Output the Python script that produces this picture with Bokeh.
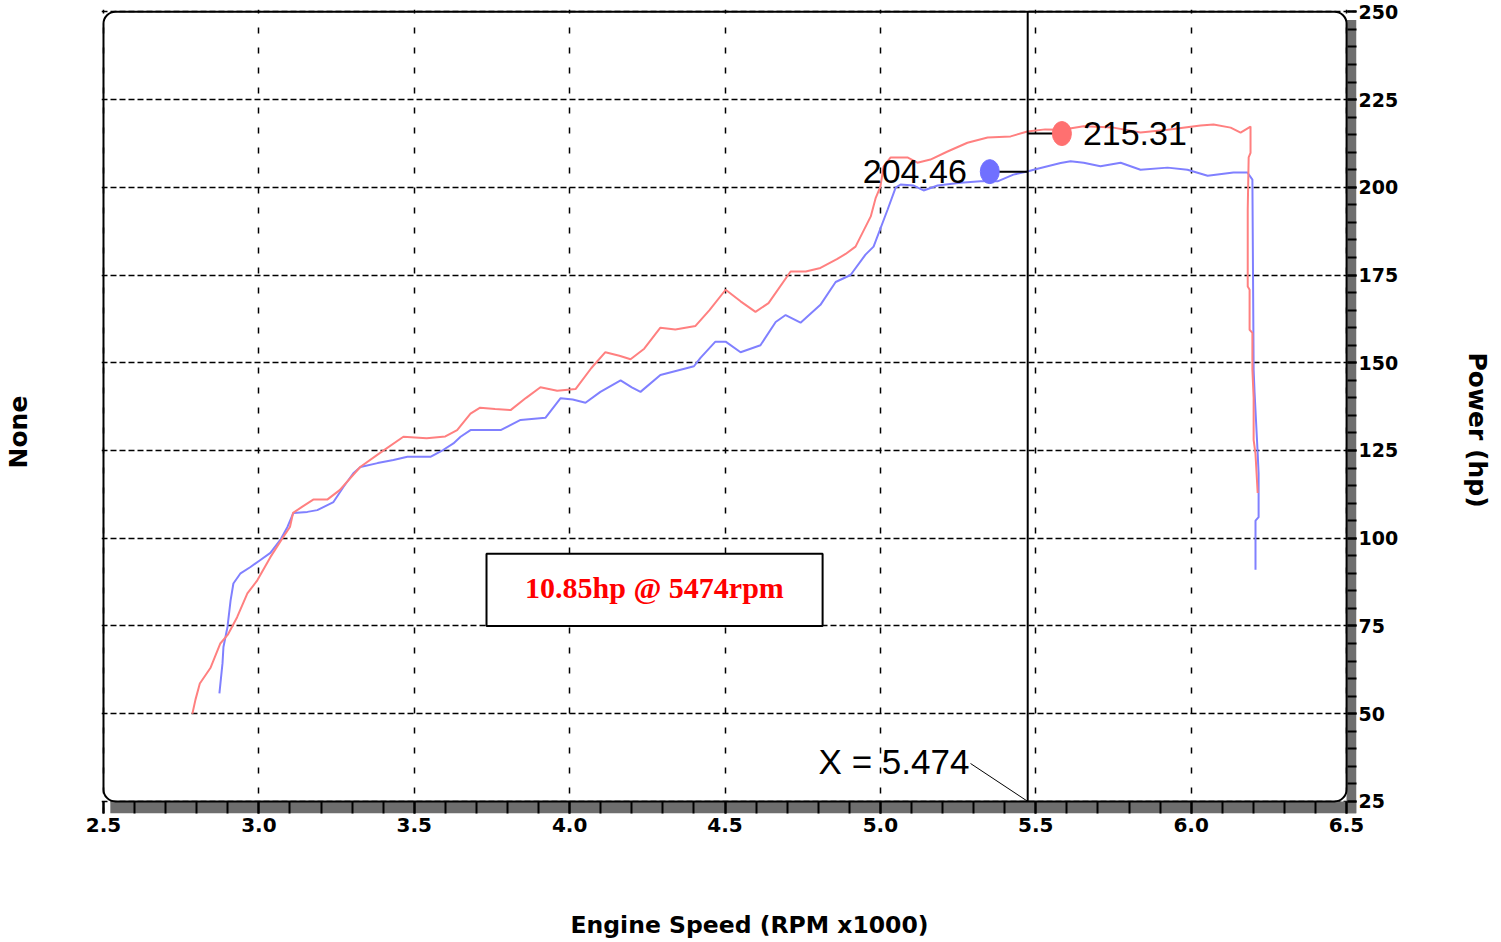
from bokeh.plotting import figure
from bokeh.models import (Range1d, FixedTicker, PrintfTickFormatter,
                          BoxAnnotation, Label, Title, LinearAxis)
from bokeh.embed import file_html
from bokeh.resources import INLINE

# ---------------- data ----------------
red_rpm = [2.786, 2.796, 2.810, 2.844, 2.876, 2.900, 2.930, 2.963, 2.995, 3.037,
           3.079, 3.100, 3.110, 3.140, 3.175, 3.220, 3.260, 3.326, 3.390, 3.465,
           3.540, 3.600, 3.638, 3.681, 3.712, 3.760, 3.810, 3.860, 3.906, 3.960,
           4.019, 4.070, 4.115, 4.160, 4.196, 4.240, 4.292, 4.340, 4.405, 4.450,
           4.502, 4.550, 4.598, 4.640, 4.711, 4.760, 4.807, 4.860, 4.888, 4.920,
           4.969, 4.985, 5.000, 5.010, 5.033, 5.087, 5.119, 5.161, 5.216, 5.280,
           5.345, 5.419, 5.473, 5.530, 5.584, 5.654, 5.750, 5.837, 5.924, 6.030,
           6.072, 6.127, 6.159, 6.191, 6.191, 6.185, 6.182, 6.182, 6.188, 6.188,
           6.197, 6.197, 6.201, 6.201, 6.207, 6.214]
red_hp = [50.0, 54.0, 58.6, 63.0, 70.0, 72.5, 77.5, 84.3, 88.0, 94.6,
          100.4, 103.2, 107.2, 109.0, 111.0, 111.0, 113.7, 120.3, 124.3, 128.9,
          128.5, 129.0, 130.8, 135.5, 137.2, 136.8, 136.5, 140.0, 143.0, 142.0,
          142.5, 148.5, 153.0, 152.0, 151.0, 154.0, 160.0, 159.5, 160.5, 165.0,
          170.8, 167.5, 164.5, 167.0, 176.0, 176.0, 177.0, 179.5, 181.0, 183.1,
          191.7, 197.0, 200.2, 205.9, 208.5, 208.5, 207.0, 207.9, 210.2, 212.7,
          214.2, 214.5, 215.9, 216.5, 216.4, 217.4, 217.0, 215.6, 216.4, 217.6,
          217.9, 217.0, 215.6, 217.3, 209.8, 208.5, 193.6, 171.7, 170.8, 159.4,
          158.5, 148.0, 140.0, 128.0, 124.0, 112.9]

blue_rpm = [2.873, 2.883, 2.886, 2.899, 2.909, 2.918, 2.941, 2.973, 3.005, 3.037,
            3.069, 3.092, 3.111, 3.156, 3.188, 3.240, 3.272, 3.304, 3.327, 3.382,
            3.433, 3.478, 3.552, 3.594, 3.626, 3.649, 3.681, 3.778, 3.842, 3.922,
            3.971, 4.010, 4.051, 4.099, 4.164, 4.200, 4.228, 4.292, 4.357, 4.400,
            4.421, 4.469, 4.502, 4.550, 4.614, 4.663, 4.695, 4.743, 4.807, 4.856,
            4.904, 4.952, 4.978, 5.023, 5.049, 5.065, 5.107, 5.139, 5.184, 5.258,
            5.322, 5.377, 5.428, 5.473, 5.493, 5.538, 5.580, 5.612, 5.654, 5.708,
            5.773, 5.837, 5.924, 5.988, 6.053, 6.136, 6.181, 6.197, 6.201, 6.204,
            6.214, 6.217, 6.217, 6.207, 6.207]
blue_hp = [55.8, 64.4, 69.0, 74.7, 82.3, 87.1, 90.0, 91.8, 93.8, 95.8,
           99.5, 103.2, 107.2, 107.5, 108.0, 110.3, 114.6, 118.5, 120.3, 121.4,
           122.3, 123.2, 123.2, 125.2, 127.0, 128.9, 130.8, 130.8, 133.7, 134.3,
           139.9, 139.5, 138.6, 141.7, 145.0, 143.0, 141.7, 146.5, 148.0, 149.0,
           151.4, 156.0, 156.0, 153.0, 155.0, 161.6, 163.6, 161.4, 166.5, 173.0,
           175.0, 180.8, 183.1, 193.6, 199.9, 200.8, 200.5, 199.1, 200.5, 201.3,
           201.7, 201.7, 203.6, 204.5, 205.0, 206.0, 206.9, 207.4, 207.0, 206.0,
           207.0, 205.0, 205.6, 205.0, 203.3, 204.2, 204.2, 202.2, 148.0, 141.5,
           124.2, 118.5, 106.0, 105.0, 91.0]

x_ticks = [2.5, 3.0, 3.5, 4.0, 4.5, 5.0, 5.5, 6.0, 6.5]
x_minor_ticks = [2.5, 2.6, 2.7, 2.8, 2.9, 3.0, 3.1, 3.2, 3.3, 3.4, 3.5, 3.6, 3.7,
                 3.8, 3.9, 4.0, 4.1, 4.2, 4.3, 4.4, 4.5, 4.6, 4.7, 4.8, 4.9, 5.0,
                 5.1, 5.2, 5.3, 5.4, 5.5, 5.6, 5.7, 5.8, 5.9, 6.0, 6.1, 6.2, 6.3,
                 6.4, 6.5]
y_ticks = [25, 50, 75, 100, 125, 150, 175, 200, 225, 250]
y_minor_ticks = list(range(25, 251, 5))

cursor_rpm = 5.474
red_at_cursor = 215.31
blue_at_cursor = 204.46
red_marker_rpm = 5.584
blue_marker_rpm = 5.352
delta_text = "10.85hp @ 5474rpm"

x_title = "Engine Speed (RPM x1000)"
y_right_title = "Power (hp)"
y_left_title = "None"

RED = "#ff8080"
BLUE = "#8080ff"
GRAY = "#6e6e6e"
TICK_FONT = "DejaVu Sans"

p = figure(width=1495, height=940,
           x_range=Range1d(2.4936, 6.532), y_range=Range1d(21.55, 250.66),
           output_backend="svg", toolbar_location=None,
           y_axis_location="right",
           min_border_left=101, min_border_top=9, min_border_right=139,
           min_border_bottom=127)
p.outline_line_color = None
p.background_fill_color = "white"
p.border_fill_color = "white"

# bottom axis
xa = p.xaxis[0]
xa.ticker = FixedTicker(ticks=x_ticks, minor_ticks=x_minor_ticks)
xa.formatter = PrintfTickFormatter(format="%.1f")
xa.axis_line_color = None
xa.major_tick_in = 12
xa.major_tick_out = 0
xa.minor_tick_in = 12
xa.minor_tick_out = 0
xa.major_tick_line_color = "black"
xa.minor_tick_line_color = "black"
xa.major_tick_line_width = 2
xa.minor_tick_line_width = 2
xa.major_label_standoff = 4
xa.major_label_text_font = TICK_FONT
xa.major_label_text_font_style = "bold"
xa.major_label_text_font_size = "20px"
xa.major_label_text_color = "black"
# blank axis label used only as spacing before the side title
xa.axis_label = " "
xa.axis_label_text_font_size = "1px"
xa.axis_label_standoff = 70

# right axis
ya = p.yaxis[0]
ya.ticker = FixedTicker(ticks=y_ticks, minor_ticks=y_minor_ticks)
ya.formatter = PrintfTickFormatter(format="%d")
ya.axis_line_color = None
ya.major_tick_in = 9
ya.major_tick_out = 0
ya.minor_tick_in = 9
ya.minor_tick_out = 0
ya.major_tick_line_color = "black"
ya.minor_tick_line_color = "black"
ya.major_tick_line_width = 2
ya.minor_tick_line_width = 2
ya.major_label_standoff = 2
ya.major_label_text_font = TICK_FONT
ya.major_label_text_font_style = "bold"
ya.major_label_text_font_size = "19px"
ya.major_label_text_color = "black"
ya.axis_label = " "
ya.axis_label_text_font_size = "1px"
ya.axis_label_standoff = 57

# empty left axis, used only as spacing before the left title
left_spacer = LinearAxis(ticker=FixedTicker(ticks=[]), axis_line_color=None,
                         major_tick_in=0, major_tick_out=0, minor_tick_in=0,
                         minor_tick_out=0, axis_label=" ",
                         axis_label_text_font_size="1px",
                         axis_label_standoff=65)
p.add_layout(left_spacer, "left")

# axis titles as side titles, offset along the axis like the reference
p.add_layout(Title(text=x_title, align="left", offset=469, standoff=0,
                   text_font=TICK_FONT, text_font_style="bold",
                   text_font_size="23.5px", text_color="black"), "below")
p.add_layout(Title(text=y_right_title, align="left", offset=343, standoff=0,
                   text_font=TICK_FONT, text_font_style="bold",
                   text_font_size="25px", text_color="black"), "right")
p.add_layout(Title(text=y_left_title, align="left", offset=345, standoff=0,
                   text_font=TICK_FONT, text_font_style="bold",
                   text_font_size="25px", text_color="black"), "left")

# grids
p.xgrid.ticker = FixedTicker(ticks=x_ticks)
p.ygrid.ticker = FixedTicker(ticks=y_ticks)
p.xgrid.grid_line_color = "black"
p.xgrid.grid_line_width = 1.5
p.xgrid.grid_line_dash = "6 14"
p.ygrid.grid_line_color = "black"
p.ygrid.grid_line_width = 1.5
p.ygrid.grid_line_dash = "6 3"

# gray 3D bars along bottom and right
p.add_layout(BoxAnnotation(top=25, left=2.522, fill_color=GRAY, fill_alpha=1,
                           line_color=None, level="underlay"))
p.add_layout(BoxAnnotation(left=6.5, top=247.7, fill_color=GRAY, fill_alpha=1,
                           line_color=None, level="underlay"))

# curves
p.line(blue_rpm, blue_hp, line_color=BLUE, line_width=2)
p.line(red_rpm, red_hp, line_color=RED, line_width=2)

# rounded frame
p.add_layout(BoxAnnotation(left=2.5, right=6.5, bottom=25, top=250,
                           fill_alpha=0, line_color="black", line_alpha=1,
                           line_width=2, border_radius=12))

# cursor
p.segment(x0=[cursor_rpm], y0=[25], x1=[cursor_rpm], y1=[250],
          line_color="black", line_width=2)
p.segment(x0=[cursor_rpm, blue_marker_rpm], y0=[red_at_cursor, blue_at_cursor],
          x1=[red_marker_rpm, cursor_rpm], y1=[red_at_cursor, blue_at_cursor],
          line_color="black", line_width=2)
p.ellipse(x=[red_marker_rpm], y=[red_at_cursor], width=19, height=24,
          width_units="screen", height_units="screen", fill_color="#ff7070",
          line_color="#ff7070")
p.ellipse(x=[blue_marker_rpm], y=[blue_at_cursor], width=19, height=24,
          width_units="screen", height_units="screen", fill_color="#7070ff",
          line_color="#7070ff")

p.add_layout(Label(x=red_marker_rpm, y=red_at_cursor, x_offset=21,
                   text=f"{red_at_cursor:.2f}", text_font="Liberation Sans",
                   text_font_size="34px", text_color="black",
                   text_align="left", text_baseline="middle"))
p.add_layout(Label(x=blue_marker_rpm, y=blue_at_cursor, x_offset=-23,
                   text=f"{blue_at_cursor:.2f}", text_font="Liberation Sans",
                   text_font_size="34px", text_color="black",
                   text_align="right", text_baseline="middle"))

# X = cursor label with leader
p.add_layout(Label(x=4.801, y=36.5, text=f"X = {cursor_rpm:.3f}",
                   text_font="Liberation Sans", text_font_size="35px",
                   text_color="black", text_align="left",
                   text_baseline="middle"))
p.segment(x0=[5.29], y0=[35.8], x1=[cursor_rpm], y1=[25],
          line_color="black", line_width=1)

# delta box
p.add_layout(BoxAnnotation(left=3.7325, right=4.814, bottom=75.0, top=95.6,
                           fill_color="white", fill_alpha=1,
                           line_color="black", line_alpha=1, line_width=2))
p.add_layout(Label(x=4.273, y=86.0, text=delta_text,
                   text_font="Liberation Serif", text_font_style="bold",
                   text_font_size="30px", text_color="#ff0000",
                   text_align="center", text_baseline="middle"))

open("out.html", "w").write(file_html(p, INLINE))
